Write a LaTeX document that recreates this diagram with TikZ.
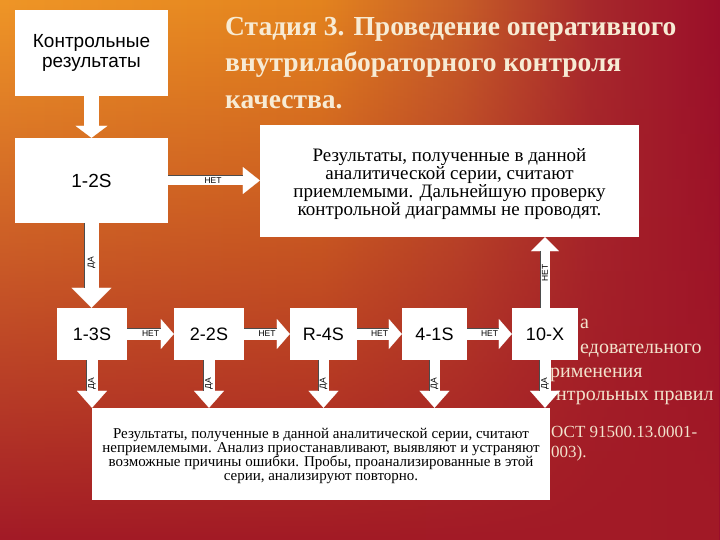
\documentclass[tikz,border=0pt]{standalone}
\usepackage{fontspec}
\setmainfont{Liberation Serif}
\setsansfont{Liberation Sans}
\usetikzlibrary{arrows.meta,fadings}
\definecolor{bgA}{HTML}{EF9626}
\definecolor{bgB}{HTML}{E4841E}
\definecolor{bgC}{HTML}{C85E28}
\definecolor{bgD}{HTML}{A82A2C}
\definecolor{bgE}{HTML}{9A0E2A}
\definecolor{ovl}{HTML}{A21A26}
\definecolor{cream}{HTML}{F7EBD4}
\definecolor{frag}{HTML}{F2E2CC}
\tikzfading[name=fadedown, top color=transparent!100, middle color=transparent!74, bottom color=transparent!0]
\tikzset{
  wbox/.style={fill=white, inner sep=0pt, align=center},
  sbox/.style={wbox, font=\sffamily\fontsize{18bp}{20bp}\selectfont, minimum height=52bp},
  arr/.style={draw=white, line width=#1},
  lbl/.style={font=\sffamily\fontsize{8.5bp}{9bp}\selectfont, inner sep=0pt, text=black},
  hedge/.style 2 args={postaction={draw=black!70, line width=0.8bp, -, shorten >=#2, transform canvas={yshift=#1}}},
  vedge/.style 2 args={postaction={draw=black!70, line width=0.8bp, -, shorten >=#2, transform canvas={xshift=#1}}},
  ttl/.style={font=\bfseries\fontsize{27.5bp}{36.5bp}\selectfont, text=cream, inner sep=0pt, align=left},
  frg/.style={font=\fontsize{20bp}{24bp}\selectfont, text=frag, inner sep=0pt, anchor=base west},
  frgs/.style={frg, font=\fontsize{17bp}{20bp}\selectfont},
}
\begin{document}
\begin{tikzpicture}[x=1bp,y=-1bp]
\useasboundingbox (0,0) rectangle (720,540);
% background
\shade[left color=bgA, right color=bgB] (0,0) rectangle (320.5,540);
\shade[left color=bgB, right color=bgC] (320,0) rectangle (460.5,540);
\shade[left color=bgC, right color=bgD] (460,0) rectangle (590.5,540);
\shade[left color=bgD, right color=bgE] (590,0) rectangle (720,540);
\fill[ovl, path fading=fadedown] (0,0) rectangle (720,540);

% title
\node[ttl, anchor=north west] (title) at (225,17) {Стадия 3. Проведение оперативного\\внутрилабораторного контроля\\качества.};

% partially hidden text fragments
\node[frg] (f1) at (580,328) {а};
\node[frg] (f2) at (580,353) {едовательного};
\node[frg] (f3) at (550,377) {рименения};
\node[frg] (f4) at (556,400) {нтрольных правил};
\node[frgs] (f5) at (551,437) {ОСТ 91500.13.0001-};
\node[frgs] (f6) at (551,457) {003).};

% boxes
\node[wbox, minimum width=153bp, minimum height=86bp, font=\sffamily\fontsize{19bp}{20bp}\selectfont] (kr) at (91.5,53) {Контрольные\\результаты};
\node[wbox, minimum width=153bp, minimum height=85bp, font=\sffamily\fontsize{19bp}{20bp}\selectfont] (s12) at (91.5,180.5) {1-2S};
\node[wbox, minimum width=379bp, minimum height=112bp, font=\fontsize{19bp}{18bp}\selectfont] (ok) at (449.5,181) {\rule{0pt}{19bp}Результаты, полученные в данной\\аналитической серии, считают\\приемлемыми. Дальнейшую проверку\\контрольной диаграммы не проводят.};
\node[sbox, minimum width=70bp] (s13) at (92,334) {1-3S};
\node[sbox, minimum width=70bp] (s22) at (209,334) {2-2S};
\node[sbox, minimum width=67bp] (r4s) at (323.5,334) {R-4S};
\node[sbox, minimum width=65bp] (s41) at (434.5,334) {4-1S};
\node[sbox, minimum width=66bp] (x10) at (545,334) {10-X};
\node[wbox, minimum width=458bp, minimum height=92bp, font=\fontsize{15bp}{14bp}\selectfont] (bad) at (321,454) {\rule{0pt}{14bp}Результаты, полученные в данной аналитической серии, считают\\неприемлемыми. Анализ приостанавливают, выявляют и устраняют\\возможные причины ошибки. Пробы, проанализированные в этой\\серии, анализируют повторно.};

% arrows
\draw[arr=15bp, -{Triangle[width=32bp,length=12bp,line width=0.1bp]}] (kr.south) -- (s12.north);
\draw[arr=10bp, hedge={5bp}{17bp}, -{Triangle[width=27bp,length=17bp,line width=0.1bp]}] (s12.east) -- (s12.east -| ok.west) node[lbl, pos=0.49] (l0) {НЕТ};
\draw[arr=14bp, vedge={-7bp}{20bp}, -{Triangle[width=40bp,length=20bp,line width=0.1bp]}] (s12.south) -- (s12.south |- s13.north) node[lbl, pos=0.47, rotate=90] (d0) {ДА};

\draw[arr=12bp, hedge={6bp}{13bp}, -{Triangle[width=30bp,length=13bp,line width=0.1bp]}] (s13.east) -- (s22.west) node[lbl, pos=0.5] (l1) {НЕТ};
\draw[arr=12bp, hedge={6bp}{13bp}, -{Triangle[width=30bp,length=13bp,line width=0.1bp]}] (s22.east) -- (r4s.west) node[lbl, pos=0.5] (l2) {НЕТ};
\draw[arr=12bp, hedge={6bp}{13bp}, -{Triangle[width=30bp,length=13bp,line width=0.1bp]}] (r4s.east) -- (s41.west) node[lbl, pos=0.5] (l3) {НЕТ};
\draw[arr=12bp, hedge={6bp}{13bp}, -{Triangle[width=30bp,length=13bp,line width=0.1bp]}] (s41.east) -- (x10.west) node[lbl, pos=0.5] (l4) {НЕТ};

\draw[arr=10bp, vedge={-5bp}{14bp}, -{Triangle[width=28bp,length=14bp,line width=0.1bp]}] (x10.north) -- (x10.north |- ok.south) node[lbl, pos=0.49, rotate=90] (l5) {НЕТ};

\foreach \b/\n in {s13/d1, s22/d2, r4s/d3, s41/d4, x10/d5}{
  \draw[arr=11bp, vedge={-5.5bp}{17bp}, -{Triangle[width=30bp,length=17bp,line width=0.1bp]}] (\b.south) -- (\b.south |- bad.north) node[lbl, pos=0.5, rotate=90] (\n) {ДА};
}
\end{tikzpicture}
\end{document}
